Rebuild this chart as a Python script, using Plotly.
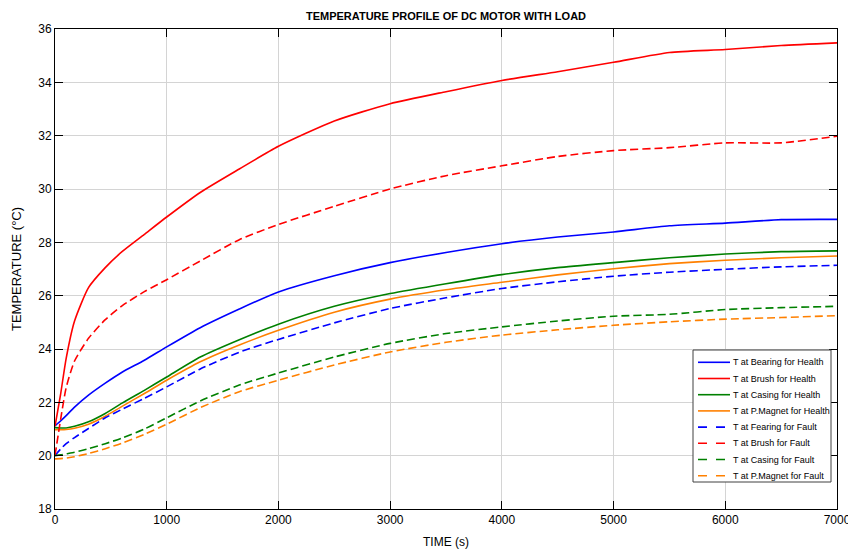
import plotly.graph_objects as go

time_s = [0, 50, 100, 175, 300, 450, 600, 800, 1000, 1300, 1650, 2000, 2500,
          3000, 3500, 4000, 4500, 5000, 5500, 6000, 6500, 7000]

bearing_health = [21.12, 21.3, 21.5, 21.82, 22.27, 22.72, 23.13, 23.58, 24.08, 24.8, 25.5, 26.14,
                  26.75, 27.24, 27.62, 27.95, 28.2, 28.39, 28.62, 28.72, 28.85, 28.86]
brush_health = [21.1, 22.3, 23.65, 25.05, 26.3, 27.05, 27.65, 28.3, 28.95, 29.87, 30.75, 31.6,
                32.55, 33.2, 33.65, 34.07, 34.4, 34.75, 35.12, 35.23, 35.38, 35.48]
casing_health = [21.05, 21.04, 21.04, 21.1, 21.27, 21.58, 21.97, 22.45, 22.95, 23.7, 24.35, 24.93,
                 25.6, 26.08, 26.45, 26.79, 27.05, 27.24, 27.42, 27.56, 27.65, 27.68]
magnet_health = [20.97, 20.97, 20.98, 21.03, 21.18, 21.48, 21.85, 22.33, 22.83, 23.52, 24.15, 24.7,
                 25.38, 25.87, 26.22, 26.5, 26.78, 27.01, 27.2, 27.33, 27.42, 27.49]
bearing_fault = [20.0, 20.25, 20.45, 20.68, 21.02, 21.42, 21.74, 22.15, 22.58, 23.25, 23.88, 24.36,
                 24.98, 25.52, 25.92, 26.27, 26.52, 26.73, 26.88, 26.99, 27.08, 27.14]
brush_fault = [20.0, 21.35, 22.55, 23.55, 24.4, 25.1, 25.62, 26.15, 26.6, 27.3, 28.1, 28.67,
               29.35, 30.0, 30.5, 30.87, 31.22, 31.44, 31.55, 31.73, 31.73, 31.98]
casing_fault = [20.0, 20.03, 20.07, 20.13, 20.26, 20.45, 20.66, 21.0, 21.42, 22.05, 22.65, 23.1,
                23.7, 24.21, 24.58, 24.83, 25.05, 25.23, 25.3, 25.48, 25.55, 25.6]
magnet_fault = [19.88, 19.89, 19.91, 19.96, 20.08, 20.26, 20.47, 20.8, 21.18, 21.8, 22.4, 22.83,
                23.4, 23.89, 24.25, 24.52, 24.72, 24.89, 25.02, 25.12, 25.18, 25.25]

x_ticks = [0, 1000, 2000, 3000, 4000, 5000, 6000, 7000]
y_ticks = [18, 20, 22, 24, 26, 28, 30, 32, 34, 36]

series_names = ["T at Bearing for Health", "T at Brush for Health", "T at Casing for Health",
                "T at P.Magnet for Health", "T at Fearing for Fault", "T at Brush for Fault",
                "T at Casing for Fault", "T at P.Magnet for Fault"]
series_values = [bearing_health, brush_health, casing_health, magnet_health,
                 bearing_fault, brush_fault, casing_fault, magnet_fault]
series_colors = ["#0000ff", "#ff0000", "#008000", "#ff8000"] * 2
series_dash = ["solid"] * 4 + ["8px,4px"] * 4

# figure geometry (pixels)
W, H = 848, 549
ML, MR, MT, MB = 55, 11, 29, 40
PW, PH = W - ML - MR, H - MT - MB


def px_x(px):
    return (px - ML) / PW


def px_y(py):
    return (H - MB - py) / PH


fig = go.Figure()
for name, vals, color, dash in zip(series_names, series_values, series_colors, series_dash):
    fig.add_trace(go.Scatter(
        x=time_s, y=vals, name=name, mode="lines", showlegend=False,
        line=dict(color=color, width=1.6, dash=dash, shape="spline", smoothing=0.6),
    ))

# custom legend box (to match the compact MATLAB-style legend)
shapes = [dict(type="rect", xref="paper", yref="paper",
               x0=px_x(693), x1=px_x(831), y0=px_y(482), y1=px_y(350),
               line=dict(color="#404040", width=1), fillcolor="white", layer="above")]
annotations = []
for i, (name, color, dash) in enumerate(zip(series_names, series_colors, series_dash)):
    yc = 362.3 + i * 16.2
    shapes.append(dict(type="line", xref="paper", yref="paper",
                       x0=px_x(698), x1=px_x(730), y0=px_y(yc), y1=px_y(yc),
                       line=dict(color=color, width=1.6,
                                 dash="dash" if dash != "solid" else "solid"),
                       layer="above"))
    annotations.append(dict(text=name, xref="paper", yref="paper",
                            x=px_x(731), y=px_y(yc), xanchor="left", yanchor="middle",
                            showarrow=False,
                            font=dict(family="Liberation Sans, Arial", size=9, color="black")))

axis_common = dict(
    showline=True, linecolor="black", linewidth=1, mirror="ticks",
    ticks="inside", ticklen=8, tickcolor="black",
    showgrid=True, gridcolor="#d4d4d4", gridwidth=1,
    zeroline=False, automargin=False, ticklabeloverflow="allow",
    tickfont=dict(family="Liberation Sans, Arial", size=12, color="black"),
)

fig.update_layout(
    width=W, height=H,
    margin=dict(l=ML, r=MR, t=MT, b=MB),
    paper_bgcolor="white", plot_bgcolor="white",
    font=dict(family="Liberation Sans, Arial", color="black"),
    title=dict(text="<b>TEMPERATURE PROFILE OF DC MOTOR WITH LOAD</b>",
               x=0.5, xref="paper", xanchor="center", y=0.971, yref="container", yanchor="middle",
               font=dict(family="Liberation Sans, Arial", size=11, color="black")),
    xaxis=dict(range=[0, 7000], tickvals=x_ticks,
               title=dict(text="TIME (s)", standoff=11,
                          font=dict(family="Liberation Sans, Arial", size=12)),
               **axis_common),
    yaxis=dict(range=[18, 36], tickvals=y_ticks,
               title=dict(text="TEMPERATURE (°C)", standoff=13,
                          font=dict(family="Liberation Sans, Arial", size=13)),
               **axis_common),
    shapes=shapes,
    annotations=annotations,
    showlegend=False,
)

fig.write_html("out.html", config={"displayModeBar": False},
               post_script="document.body.style.margin='0';")
